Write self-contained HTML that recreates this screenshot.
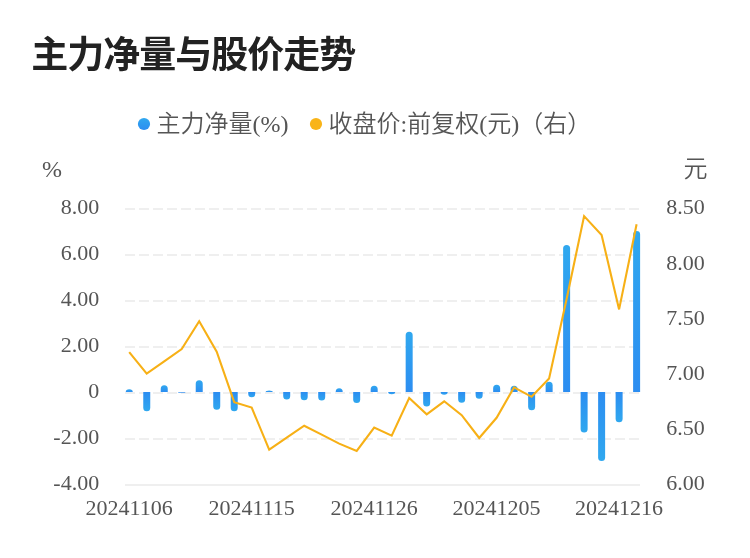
<!DOCTYPE html>
<html lang="zh-CN">
<head>
<meta charset="utf-8">
<title>主力净量与股价走势</title>
<style>
html,body{margin:0;padding:0;background:#fff;}
body{width:750px;height:558px;overflow:hidden;position:relative;}
svg{display:block;position:absolute;left:0;top:0;}
.t{font-family:"Liberation Sans","Noto Sans CJK SC",sans-serif;font-weight:bold;font-size:37px;letter-spacing:-1px;fill:#222;}
.l{font-family:"Liberation Serif","Noto Sans CJK SC",serif;font-size:24px;font-weight:350;fill:#555;}
.u{font-family:"Liberation Serif","Noto Sans CJK SC",serif;font-size:24px;font-weight:350;fill:#555;}
.a{font-family:"Liberation Serif","Noto Sans CJK SC",serif;font-size:22px;fill:#555;}
</style>
</head>
<body>
<svg width="750" height="558" viewBox="0 0 750 558">
<defs>
<linearGradient id="gu" x1="0" y1="0" x2="0" y2="1"><stop offset="0" stop-color="#30a8ef"/><stop offset="1" stop-color="#2c8df1"/></linearGradient>
<linearGradient id="gd" x1="0" y1="0" x2="0" y2="1"><stop offset="0" stop-color="#2c8df1"/><stop offset="1" stop-color="#30a8ef"/></linearGradient>
</defs>
<rect width="750" height="558" fill="#fff"/>
<text class="t" x="31.3" y="68.4">主力净量与股价走势</text>
<circle cx="144" cy="124" r="6.1" fill="url(#gu)"/>
<text class="l" x="156.5" y="132">主力净量(%)</text>
<circle cx="316" cy="124" r="6.1" fill="#f9b418"/>
<text class="l" x="328.5" y="132">收盘价:前复权(元)（右）</text>
<text class="u" x="42" y="176.8">%</text>
<text class="u" x="683.6" y="177.2">元</text>
<line x1="125.0" y1="209.0" x2="640.0" y2="209.0" stroke="#efefef" stroke-width="2" stroke-dasharray="10 4"/>
<line x1="125.0" y1="255.0" x2="640.0" y2="255.0" stroke="#efefef" stroke-width="2" stroke-dasharray="10 4"/>
<line x1="125.0" y1="301.0" x2="640.0" y2="301.0" stroke="#efefef" stroke-width="2" stroke-dasharray="10 4"/>
<line x1="125.0" y1="347.0" x2="640.0" y2="347.0" stroke="#efefef" stroke-width="2" stroke-dasharray="10 4"/>
<line x1="125.0" y1="393.0" x2="640.0" y2="393.0" stroke="#efefef" stroke-width="2" stroke-dasharray="10 4"/>
<line x1="125.0" y1="439.0" x2="640.0" y2="439.0" stroke="#efefef" stroke-width="2" stroke-dasharray="10 4"/>
<line x1="125.0" y1="485.0" x2="640.0" y2="485.0" stroke="#efefef" stroke-width="2"/>
<text class="a" x="99.2" y="214.4" text-anchor="end">8.00</text>
<text class="a" x="99.2" y="260.2" text-anchor="end">6.00</text>
<text class="a" x="99.2" y="306.1" text-anchor="end">4.00</text>
<text class="a" x="99.2" y="352.0" text-anchor="end">2.00</text>
<text class="a" x="99.2" y="397.8" text-anchor="end">0</text>
<text class="a" x="99.2" y="443.6" text-anchor="end">-2.00</text>
<text class="a" x="99.2" y="489.5" text-anchor="end">-4.00</text>
<text class="a" x="666.3" y="214.4">8.50</text>
<text class="a" x="666.3" y="269.5">8.00</text>
<text class="a" x="666.3" y="324.6">7.50</text>
<text class="a" x="666.3" y="379.7">7.00</text>
<text class="a" x="666.3" y="434.8">6.50</text>
<text class="a" x="666.3" y="489.9">6.00</text>
<text class="a" x="129.2" y="515" text-anchor="middle">20241106</text>
<text class="a" x="251.7" y="515" text-anchor="middle">20241115</text>
<text class="a" x="374.2" y="515" text-anchor="middle">20241126</text>
<text class="a" x="496.6" y="515" text-anchor="middle">20241205</text>
<text class="a" x="619.1" y="515" text-anchor="middle">20241216</text>
<path d="M125.75 392.0 V392.00 A3.50 2.80 0 0 1 132.75 392.00 V392.0 Z" fill="url(#gu)"/>
<path d="M143.25 392.0 V407.70 A3.50 3.50 0 0 0 150.25 407.70 V392.0 Z" fill="url(#gd)"/>
<path d="M160.74 392.0 V388.70 A3.50 3.50 0 0 1 167.74 388.70 V392.0 Z" fill="url(#gu)"/>
<rect x="178.24" y="392.0" width="7.0" height="0.9" fill="#2c8bf0" opacity="0.75"/>
<path d="M195.73 392.0 V383.70 A3.50 3.50 0 0 1 202.73 383.70 V392.0 Z" fill="url(#gu)"/>
<path d="M213.23 392.0 V406.30 A3.50 3.50 0 0 0 220.23 406.30 V392.0 Z" fill="url(#gd)"/>
<path d="M230.72 392.0 V407.70 A3.50 3.50 0 0 0 237.72 407.70 V392.0 Z" fill="url(#gd)"/>
<path d="M248.22 392.0 V393.70 A3.50 3.50 0 0 0 255.22 393.70 V392.0 Z" fill="url(#gd)"/>
<path d="M265.71 392.0 V392.00 A3.50 1.50 0 0 1 272.71 392.00 V392.0 Z" fill="url(#gu)"/>
<path d="M283.21 392.0 V395.90 A3.50 3.50 0 0 0 290.21 395.90 V392.0 Z" fill="url(#gd)"/>
<path d="M300.70 392.0 V396.70 A3.50 3.50 0 0 0 307.70 396.70 V392.0 Z" fill="url(#gd)"/>
<path d="M318.20 392.0 V397.10 A3.50 3.50 0 0 0 325.20 397.10 V392.0 Z" fill="url(#gd)"/>
<path d="M335.69 392.0 V391.70 A3.50 3.50 0 0 1 342.69 391.70 V392.0 Z" fill="url(#gu)"/>
<path d="M353.19 392.0 V399.50 A3.50 3.50 0 0 0 360.19 399.50 V392.0 Z" fill="url(#gd)"/>
<path d="M370.68 392.0 V389.20 A3.50 3.50 0 0 1 377.68 389.20 V392.0 Z" fill="url(#gu)"/>
<path d="M388.18 392.0 V392.00 A3.50 2.20 0 0 0 395.18 392.00 V392.0 Z" fill="url(#gd)"/>
<path d="M405.67 392.0 V335.20 A3.50 3.50 0 0 1 412.67 335.20 V392.0 Z" fill="url(#gu)"/>
<path d="M423.17 392.0 V403.00 A3.50 3.50 0 0 0 430.17 403.00 V392.0 Z" fill="url(#gd)"/>
<path d="M440.66 392.0 V392.00 A3.50 2.80 0 0 0 447.66 392.00 V392.0 Z" fill="url(#gd)"/>
<path d="M458.16 392.0 V399.30 A3.50 3.50 0 0 0 465.16 399.30 V392.0 Z" fill="url(#gd)"/>
<path d="M475.65 392.0 V395.30 A3.50 3.50 0 0 0 482.65 395.30 V392.0 Z" fill="url(#gd)"/>
<path d="M493.15 392.0 V388.30 A3.50 3.50 0 0 1 500.15 388.30 V392.0 Z" fill="url(#gu)"/>
<path d="M510.64 392.0 V389.30 A3.50 3.50 0 0 1 517.64 389.30 V392.0 Z" fill="url(#gu)"/>
<path d="M528.13 392.0 V406.70 A3.50 3.50 0 0 0 535.13 406.70 V392.0 Z" fill="url(#gd)"/>
<path d="M545.63 392.0 V385.30 A3.50 3.50 0 0 1 552.63 385.30 V392.0 Z" fill="url(#gu)"/>
<path d="M563.12 392.0 V248.50 A3.50 3.50 0 0 1 570.12 248.50 V392.0 Z" fill="url(#gu)"/>
<path d="M580.62 392.0 V429.10 A3.50 3.50 0 0 0 587.62 429.10 V392.0 Z" fill="url(#gd)"/>
<path d="M598.12 392.0 V457.40 A3.50 3.50 0 0 0 605.12 457.40 V392.0 Z" fill="url(#gd)"/>
<path d="M615.61 392.0 V418.70 A3.50 3.50 0 0 0 622.61 418.70 V392.0 Z" fill="url(#gd)"/>
<path d="M633.11 392.0 V234.50 A3.50 3.50 0 0 1 640.11 234.50 V392.0 Z" fill="url(#gu)"/>
<polyline points="129.2,352.2 146.7,373.7 164.2,361.3 181.7,349.0 199.2,321.3 216.7,351.7 234.2,402.2 251.7,407.6 269.2,449.7 286.7,437.6 304.2,425.7 321.7,434.6 339.2,443.6 356.7,451.0 374.2,427.5 391.7,435.7 409.2,398.0 426.7,414.3 444.2,401.3 461.7,415.2 479.2,438.0 496.6,417.8 514.1,387.3 531.6,396.8 549.1,378.4 566.6,299.0 584.1,216.1 601.6,235.0 619.1,309.4 636.6,224.2" fill="none" stroke="#f7b016" stroke-width="2.1" stroke-linejoin="miter"/>
</svg>
</body>
</html>
